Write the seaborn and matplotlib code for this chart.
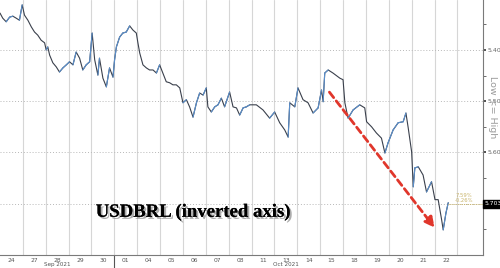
import numpy as np
import pandas as pd
import seaborn as sns
import matplotlib
matplotlib.use("Agg")
import matplotlib.pyplot as plt
import matplotlib.patheffects as pe
from matplotlib.transforms import blended_transform_factory

# ---- data ----
# position in trading days since 24 Sep 2021 open
t = [0.00, 0.12, 0.27, 0.42, 0.56, 0.71, 0.85, 0.97, 1.07, 1.22, 1.37, 1.51, 1.65, 1.80, 1.95,
     2.02, 2.09, 2.17, 2.31, 2.46, 2.60, 2.75, 2.90, 3.04, 3.19, 3.33, 3.48, 3.62, 3.77, 3.92,
     4.03, 4.14, 4.28, 4.35, 4.50, 4.65, 4.79, 4.94, 5.01, 5.09, 5.23, 5.37, 5.52, 5.67, 5.81,
     5.96, 6.03, 6.11, 6.25, 6.40, 6.54, 6.69, 6.84, 6.98, 7.12, 7.27, 7.42, 7.56, 7.71, 7.86,
     8.00, 8.15, 8.29, 8.44, 8.59, 8.73, 8.88, 9.02, 9.09, 9.24, 9.39, 9.53, 9.68, 9.82, 10.04,
     10.19, 10.34, 10.48, 10.63, 10.77, 10.92, 11.21, 11.50, 11.79, 12.01, 12.23, 12.45, 12.60,
     12.67, 12.89, 13.03, 13.25, 13.47, 13.69, 13.91, 14.06, 14.13, 14.20, 14.35, 14.56, 14.86,
     15.00, 15.08, 15.22, 15.44, 15.73, 15.95, 16.03, 16.25, 16.46, 16.68, 16.83, 16.97, 17.19,
     17.41, 17.63, 17.75, 17.85, 18.00, 18.07, 18.14, 18.29, 18.50, 18.65, 18.87, 19.02, 19.16,
     19.31, 19.38, 19.50, 19.60]
usdbrl = [5.328, 5.338, 5.345, 5.336, 5.334, 5.338, 5.342, 5.312, 5.332, 5.342, 5.355, 5.365,
          5.371, 5.381, 5.386, 5.400, 5.394, 5.410, 5.425, 5.433, 5.443, 5.435, 5.429, 5.423,
          5.429, 5.404, 5.416, 5.439, 5.429, 5.423, 5.367, 5.419, 5.449, 5.416, 5.455, 5.472,
          5.435, 5.453, 5.419, 5.394, 5.375, 5.367, 5.365, 5.353, 5.361, 5.367, 5.386, 5.406,
          5.429, 5.435, 5.439, 5.439, 5.445, 5.429, 5.445, 5.462, 5.464, 5.468, 5.468, 5.474,
          5.503, 5.497, 5.511, 5.531, 5.503, 5.484, 5.488, 5.474, 5.511, 5.521, 5.511, 5.507,
          5.494, 5.511, 5.482, 5.511, 5.513, 5.527, 5.513, 5.511, 5.507, 5.507, 5.517, 5.533,
          5.521, 5.542, 5.556, 5.570, 5.503, 5.511, 5.474, 5.497, 5.503, 5.523, 5.513, 5.478,
          5.501, 5.445, 5.439, 5.445, 5.455, 5.458, 5.503, 5.533, 5.517, 5.507, 5.513, 5.540,
          5.550, 5.562, 5.572, 5.601, 5.581, 5.556, 5.542, 5.540, 5.523, 5.552, 5.599, 5.667,
          5.630, 5.628, 5.644, 5.677, 5.657, 5.692, 5.692, 5.731, 5.751, 5.718, 5.698]

day_labels = ['24', '27', '28', '29', '30', '01', '04', '05', '06', '07', '08',
              '11', '13', '14', '15', '18', '19', '20', '21', '22']
month_labels = ['Sep 2021', 'Oct 2021']
month_label_day = [2, 12]
month_break_day = [5]

y_ticks = [5.40, 5.50, 5.60, 5.70]
y_minor = [5.35, 5.45, 5.55, 5.65, 5.75]
last_price_label = '5.7036'
change_labels = ['7.59%', '-0.26%']
title = 'USDBRL (inverted axis)'

# ---- figure ----
sns.set_theme(style='white')
plt.rcParams['font.family'] = ['DejaVu Sans']
fig = plt.figure(figsize=(5.0, 2.68), dpi=100)
ax = fig.add_axes([0.0, 13 / 268, 483 / 500, 255 / 268])

df = pd.DataFrame({'t': t, 'px': usdbrl})
ax.set_xlim(0, 21.12)
ax.set_ylim(5.80, 5.3025)

# grid
for d in range(1, 21):
    ax.axvline(d, color='#d6d6d6', lw=0.8, zorder=0)
for v in y_ticks:
    ax.axhline(v, color='#b8b8b8', lw=0.7, ls=(0, (1, 2)), zorder=0)

sns.lineplot(data=df, x='t', y='px', ax=ax, color='#3a404c', lw=0.8, zorder=3)
# up-moves (visually rising on the inverted axis) in blue
for i in range(len(t) - 1):
    if usdbrl[i + 1] < usdbrl[i]:
        ax.plot(t[i:i + 2], usdbrl[i:i + 2], color='#5a8fcc', lw=0.8, zorder=4)

# red dashed arrow
ax.annotate('', xy=(19.08, 5.751), xytext=(14.33, 5.478),
            arrowprops=dict(arrowstyle='-|>,head_length=0.5,head_width=0.25',
                            color='#e0362b', lw=2.0, ls=(0, (2.5, 1.5))), zorder=5)

# last price line & labels
ax.plot([t[-1], 21.12], [5.700, 5.700], color='#c9b46a', lw=0.7, ls=(0, (1, 1)), zorder=4)
ax.text(20.3, 5.683, change_labels[0], color='#c9b46a', fontsize=3.8, ha='center', va='center')
ax.text(20.3, 5.693, change_labels[1], color='#c9b46a', fontsize=3.8, ha='center', va='center')
btr = blended_transform_factory(ax.transAxes, ax.transData)
ax.text(1.004, 5.700, last_price_label, transform=btr, color='white', fontsize=4.3,
        ha='left', va='center', clip_on=False,
        bbox=dict(boxstyle='square,pad=0.25', fc='black', ec='black'))

# title text with shadow
ax.text(0.40, 0.168, title, transform=ax.transAxes, fontsize=13.5, fontweight='bold',
        family='Liberation Serif', color='black', ha='center', va='center', zorder=6,
        path_effects=[pe.withSimplePatchShadow(offset=(1.5, -1.5), shadow_rgbFace='#777777',
                                               alpha=0.6), pe.Normal()])

# axes styling
for s in ['left', 'top']:
    ax.spines[s].set_visible(False)
ax.spines['right'].set_color('#7a7a7a')
ax.spines['right'].set_linewidth(0.8)
ax.spines['bottom'].set_color('#7a7a7a')
ax.spines['bottom'].set_linewidth(0.8)

ax.yaxis.tick_right()
ax.set_yticks(y_ticks)
ax.set_yticklabels(['5.400', '5.500', '5.600', ''])
ax.set_yticks(y_minor, minor=True)
ax.tick_params(axis='y', which='major', length=2.5, width=1.2, color='#333333',
               labelsize=4.5, labelcolor='#666666', pad=1)
ax.tick_params(axis='y', which='minor', length=2, width=0.6, color='#555555', right=True)
ax.set_ylabel('')
ax.set_xlabel('')

ax.set_xticks([i + 0.5 for i in range(len(day_labels))])
ax.set_xticklabels(day_labels)
ax.tick_params(axis='x', length=0, labelsize=4.3, labelcolor='#555555', pad=2.0)

trx = blended_transform_factory(ax.transData, ax.transAxes)
for d, lab in zip(month_label_day, month_labels):
    ax.text(d + 0.5, -0.038, lab, transform=trx, fontsize=4.1, color='#555555',
            ha='center', va='center', clip_on=False)
for d in month_break_day:
    ax.plot([d, d], [0, -0.06], transform=trx, color='#555555', lw=0.8, clip_on=False)

# side note
fig.text(0.984, 0.60, 'Low <= High', rotation=270, fontsize=6.8, color='#9a9a9a',
         ha='center', va='center')

fig.savefig('out.png', dpi=100, facecolor='white')
